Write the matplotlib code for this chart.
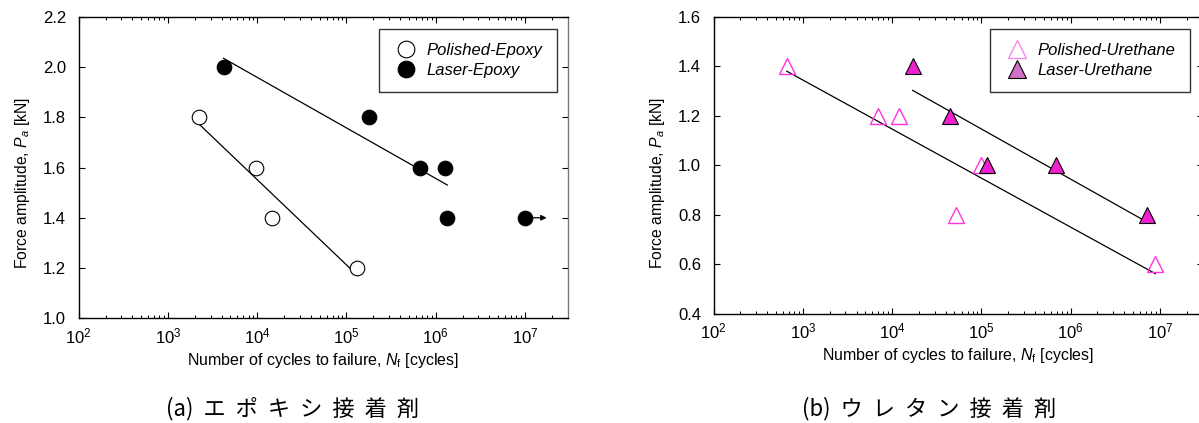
import numpy as np
import matplotlib
matplotlib.use("Agg")
import matplotlib.pyplot as plt
from matplotlib.lines import Line2D
from matplotlib.ticker import LogLocator, FixedLocator, NullFormatter, FuncFormatter

plt.rcParams['font.family'] = ['Liberation Sans', 'DejaVu Sans']
plt.rcParams['mathtext.fontset'] = 'custom'
plt.rcParams['mathtext.rm'] = 'Liberation Sans'
plt.rcParams['mathtext.it'] = 'Liberation Sans:italic'
plt.rcParams['mathtext.bf'] = 'Liberation Sans:bold'

# ---------------- data ----------------
# (a) epoxy
pe_N = [2.2e3, 9.6e3, 1.45e4, 1.33e5]
pe_P = [1.8, 1.6, 1.4, 1.2]
le_N = [4.2e3, 1.8e5, 6.6e5, 1.26e6, 1.35e6, 1.0e7]
le_P = [2.0, 1.8, 1.6, 1.6, 1.4, 1.4]
le_runout = [False, False, False, False, False, True]
# (b) urethane
pu_N = [6.6e2, 6.9e3, 1.2e4, 1.0e5, 5.2e4, 8.9e6]
pu_P = [1.4, 1.2, 1.2, 1.0, 0.8, 0.6]
lu_N = [1.7e4, 4.4e4, 1.15e5, 6.9e5, 7.2e6]
lu_P = [1.4, 1.2, 1.0, 1.0, 0.8]

yticks_a = [1.0, 1.2, 1.4, 1.6, 1.8, 2.0, 2.2]
yticks_b = [0.4, 0.6, 0.8, 1.0, 1.2, 1.4, 1.6]
xlim = (1e2, 3e7)
xticks = [1e2, 1e3, 1e4, 1e5, 1e6, 1e7]

labels_a = ['Polished-Epoxy', 'Laser-Epoxy']
labels_b = ['Polished-Urethane', 'Laser-Urethane']
captions = ['(a)  エ  ポ  キ  シ  接  着  剤', '(b)  ウ  レ  タ  ン  接  着  剤']

xlabel = r'Number of cycles to failure, $N_{\mathrm{f}}$ [cycles]'
ylabel = r'Force amplitude, $P_a$ [kN]'

W, H = 1199, 423
fig = plt.figure(figsize=(W / 100, H / 100), dpi=100)

def px_axes(x0, x1, ytop, ybot):
    return fig.add_axes([x0 / W, 1 - ybot / H, (x1 - x0) / W, (ybot - ytop) / H])

ax1 = px_axes(78.7, 567.5, 16.7, 318.3)
ax2 = px_axes(713.5, 1202.5, 16.7, 313.5)

def fit_line(ax, N, P):
    lx = np.log10(N)
    k, b = np.polyfit(lx, P, 1)
    xs = np.array([lx.min(), lx.max()])
    ax.plot(10 ** xs, k * xs + b, color='black', lw=0.9, zorder=2)

def style(ax, yt, ylab_y):
    ax.set_xscale('log')
    ax.set_xlim(*xlim)
    ax.set_ylim(yt[0], yt[-1])
    ax.xaxis.set_major_locator(FixedLocator(xticks))
    ax.xaxis.set_minor_locator(LogLocator(base=10, subs=np.arange(2, 10)))
    ax.xaxis.set_minor_formatter(NullFormatter())
    ax.xaxis.set_major_formatter(FuncFormatter(lambda v, p: r'$10^{%d}$' % round(np.log10(v))))
    ax.set_yticks(yt)
    ax.yaxis.set_major_formatter(FuncFormatter(lambda v, p: '%.1f' % v))
    ax.tick_params(which='both', direction='in', top=True, right=True)
    ax.tick_params(which='major', length=4, width=0.8, labelsize=12)
    ax.tick_params(which='minor', length=2.5, width=0.7)
    ax.tick_params(axis='y', pad=9)
    ax.tick_params(axis='x', pad=6)
    ax.set_xlabel(xlabel, fontsize=11.5, labelpad=3)
    ax.set_ylabel(ylabel, fontsize=11.3)
    ax.yaxis.set_label_coords(-0.096, ylab_y)
    for s in ['left', 'bottom', 'top']:
        ax.spines[s].set_linewidth(1.0)
        ax.spines[s].set_color('black')
    ax.spines['right'].set_linewidth(1.0)
    ax.spines['right'].set_color('#777777')

legend_kw = dict(loc='upper right', prop={'style': 'italic', 'size': 12}, fancybox=False,
                 edgecolor='#333333', framealpha=1, borderpad=0.85,
                 labelspacing=0.3, handletextpad=0.5, handlelength=1.5, borderaxespad=0)

# ---------- (a) ----------
style(ax1, yticks_a, 0.449)
fit_line(ax1, pe_N, pe_P)
le_fit_N = [n for n, r in zip(le_N, le_runout) if not r]
le_fit_P = [p for p, r in zip(le_P, le_runout) if not r]
fit_line(ax1, le_fit_N, le_fit_P)
ax1.plot(pe_N, pe_P, 'o', ms=10.5, mfc='white', mec='black', mew=0.8, ls='none', zorder=3)
ax1.plot(le_N, le_P, 'o', ms=10.5, mfc='black', mec='black', mew=0.8, ls='none', zorder=3)
for n, p, r in zip(le_N, le_P, le_runout):
    if r:
        ax1.annotate('', xy=(n * 1.75, p), xytext=(n, p),
                     arrowprops=dict(arrowstyle='-|>', color='black', lw=0.9,
                                     mutation_scale=8, shrinkA=0, shrinkB=0), zorder=2)
h_a = [Line2D([], [], marker='o', ls='none', ms=12, mfc='white', mec='black', mew=0.8),
       Line2D([], [], marker='o', ls='none', ms=12, mfc='black', mec='black', mew=0.8)]
leg1 = ax1.legend(h_a, labels_a, bbox_to_anchor=(0.978, 0.959), **legend_kw)
leg1.get_frame().set_linewidth(1.0)

# ---------- (b) ----------
style(ax2, yticks_b, 0.44)
fit_line(ax2, pu_N, pu_P)
fit_line(ax2, lu_N, lu_P)
ax2.plot(pu_N, pu_P, '^', ms=11, mfc='none', mec='#ff33dd', mew=1.0, ls='none', zorder=3)
ax2.plot(lu_N, lu_P, '^', ms=11, mfc='#f020d0', mec='black', mew=0.8, ls='none', zorder=3)
h_b = [Line2D([], [], marker='^', ls='none', ms=12.5, mfc='none', mec='#f08ce8', mew=1.0),
       Line2D([], [], marker='^', ls='none', ms=12.5, mfc='#d070c8', mec='black', mew=0.8)]
leg2 = ax2.legend(h_b, labels_b, bbox_to_anchor=(0.9735, 0.9585), **legend_kw)
leg2.get_frame().set_linewidth(1.0)

# captions
fig.text(293 / W, 1 - 409 / H, captions[0], ha='center', va='center', fontsize=16,
         family=['Noto Sans CJK JP', 'DejaVu Sans'])
fig.text(929 / W, 1 - 409 / H, captions[1], ha='center', va='center', fontsize=16,
         family=['Noto Sans CJK JP', 'DejaVu Sans'])

fig.savefig('out.png', dpi=100)
